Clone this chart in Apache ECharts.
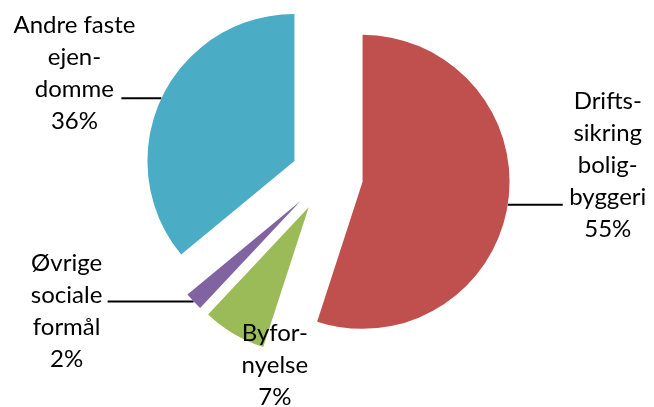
<!DOCTYPE html>
<html><head><meta charset="utf-8">
<script src="https://cdn.jsdelivr.net/npm/echarts@6/dist/echarts.min.js"></script>
<style>html,body{margin:0;padding:0;background:#fff}#c{width:654px;height:407px}</style>
</head><body><div id="c"></div>
<script>
// Data
const categories = ['Driftssikring boligbyggeri', 'Byfornyelse', 'Øvrige sociale formål', 'Andre faste ejendomme'];
const values = [55, 7, 2, 36];
const labelLines = [
  ['Drifts-', 'sikring', 'bolig-', 'byggeri'],
  ['Byfor-', 'nyelse'],
  ['Øvrige', 'sociale', 'formål'],
  ['Andre faste', 'ejen-', 'domme']
];

// Styles
const colors = ['#C0504D', '#9BBB59', '#8064A2', '#4BACC6'];
const FONT = 'Lato';
const FS = 24;
const LH = 32;
const labelCfg = [
  { w: 80, pad: [0, 0, 80, 0], len2: 55, line: true },
  { w: 70, pad: [64, 0, 0, 0], len2: 0, line: false },
  { w: 72, pad: [20, 0, 0, 0], len2: 86, line: true },
  { w: 84, pad: [0, 0, 50, 0], len2: 40, line: true }
];

const data = categories.map((name, i) => ({
  name: name,
  value: values[i],
  selected: true,
  itemStyle: { color: colors[i] },
  label: {
    padding: labelCfg[i].pad,
    rich: { c: { width: labelCfg[i].w, align: 'center', fontFamily: FONT, fontSize: FS, lineHeight: LH, color: '#000' } }
  },
  labelLine: { show: labelCfg[i].line, length: 0, length2: labelCfg[i].len2 }
}));

const chart = echarts.init(document.getElementById('c'), null, { renderer: 'canvas' });
chart.setOption({
  animation: false,
  backgroundColor: '#fff',
  series: [{
    type: 'pie',
    radius: 147,
    center: ['50%', '43.3%'],
    startAngle: 90,
    clockwise: true,
    selectedMode: 'multiple',
    selectedOffset: 36,
    avoidLabelOverlap: false,
    silent: true,
    data: data,
    label: {
      show: true,
      position: 'outside',
      distanceToLabelLine: 5,
      fontFamily: FONT,
      fontSize: FS,
      lineHeight: LH,
      color: '#000',
      formatter: function (p) {
        return labelLines[p.dataIndex].concat([Math.round(p.percent) + '%'])
          .map(s => '{c|' + s + '}').join('\n');
      }
    },
    labelLine: { show: true, length: 0, lineStyle: { color: '#000', width: 2 } },
    labelLayout: function (p) {
      if (p.dataIndex === 1) { return { dx: p.labelRect.width + 11 }; }
    },
    emphasis: { disabled: true },
    select: { itemStyle: { borderWidth: 0 } }
  }]
});
</script></body></html>
